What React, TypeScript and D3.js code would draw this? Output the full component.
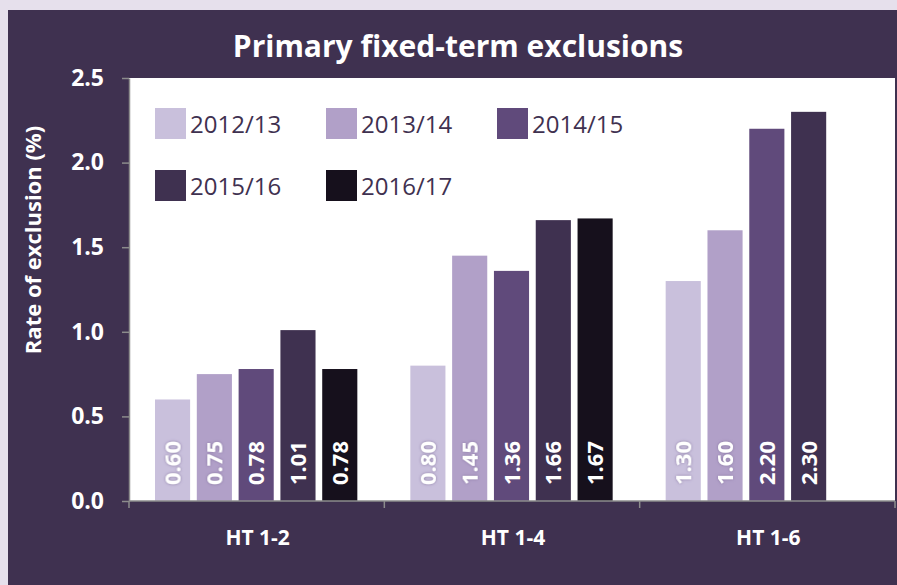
import React, { useEffect, useRef } from 'react';
import * as d3 from 'd3';

const categories = ['HT 1-2', 'HT 1-4', 'HT 1-6'];
const years = ['2012/13', '2013/14', '2014/15', '2015/16', '2016/17'];
const yearColors = ['#c9c0dc', '#b1a0c8', '#604a7b', '#3f3150', '#16101c'];
// one array per category, in year order; null = no data yet
const ht12 = [0.6, 0.75, 0.78, 1.01, 0.78];
const ht14 = [0.8, 1.45, 1.36, 1.66, 1.67];
const ht16 = [1.3, 1.6, 2.2, 2.3, null];
const yTicks = [0, 0.5, 1.0, 1.5, 2.0, 2.5];

const W = 897;
const H = 585;
const FONT = '"Open Sans", "Noto Sans", sans-serif';

const Chart: React.FC = () => {
  const svgRef = useRef<SVGSVGElement>(null);

  useEffect(() => {
    if (!svgRef.current) return;
    const svg = d3.select(svgRef.current);
    svg.selectAll('*').remove();

    const plot = { left: 129, right: 895, top: 78, bottom: 501 };

    // page + dark panel
    svg.append('rect').attr('width', W).attr('height', H).style('fill', '#e6e0ec');
    svg.append('rect')
      .attr('x', 8).attr('y', 10)
      .attr('width', W - 8).attr('height', H - 10)
      .style('fill', '#3f3150');

    const defs = svg.append('defs');
    const glow = defs.append('filter').attr('id', 'glow')
      .attr('x', '-50%').attr('y', '-50%').attr('width', '200%').attr('height', '200%');
    glow.append('feGaussianBlur').attr('in', 'SourceAlpha').attr('stdDeviation', 1.5).attr('result', 'b');
    glow.append('feFlood').attr('flood-color', '#7d6a99').attr('flood-opacity', 0.8);
    glow.append('feComposite').attr('in2', 'b').attr('operator', 'in').attr('result', 's');
    const merge = glow.append('feMerge');
    merge.append('feMergeNode').attr('in', 's');
    merge.append('feMergeNode').attr('in', 'SourceGraphic');

    svg.append('text')
      .attr('x', 458).attr('y', 57)
      .attr('text-anchor', 'middle')
      .style('font-family', FONT).style('font-weight', 700).style('font-size', '30px')
      .style('fill', '#ffffff')
      .text('Primary fixed-term exclusions');

    // white plot area
    svg.append('rect')
      .attr('x', plot.left).attr('y', plot.top)
      .attr('width', plot.right - plot.left).attr('height', plot.bottom - plot.top)
      .style('fill', '#ffffff');

    const x0 = d3.scaleBand<string>().domain(categories).range([plot.left, plot.right]).paddingInner(0).paddingOuter(0);
    const x1 = d3.scaleBand<string>().domain(years).range([26, x0.bandwidth() - 27]).paddingInner(0.16).paddingOuter(0);
    const y = d3.scaleLinear().domain([0, 2.5]).range([plot.bottom, plot.top]);

    const series = [ht12, ht14, ht16];

    const groups = svg.append('g').selectAll('g')
      .data(categories)
      .enter().append('g')
      .attr('transform', d => `translate(${x0(d)},0)`);

    const bars = groups.selectAll('g.bar')
      .data((d, i) => years.map((yr, j) => ({ yr, j, v: series[i][j] })).filter(b => b.v !== null))
      .enter().append('g').attr('class', 'bar');

    bars.append('rect')
      .attr('x', d => x1(d.yr)!)
      .attr('width', x1.bandwidth())
      .attr('y', d => y(d.v as number))
      .attr('height', d => plot.bottom - y(d.v as number))
      .style('fill', d => yearColors[d.j]);

    bars.append('text')
      .attr('transform', d => `translate(${x1(d.yr)! + x1.bandwidth() / 2 + 8},${plot.bottom - 16}) rotate(-90)`)
      .style('font-family', FONT).style('font-weight', 700).style('font-size', '22px')
      .style('fill', '#ffffff')
      .attr('filter', d => (d.j < 2 ? 'url(#glow)' : null))
      .text(d => (d.v as number).toFixed(2));

    // y axis
    const yAxis = svg.append('g').attr('transform', `translate(${plot.left},0)`)
      .call(d3.axisLeft(y).tickValues(yTicks).tickFormat(d3.format('.1f')).tickSize(7).tickSizeOuter(0));
    yAxis.select('.domain').style('stroke', '#8c8c8c').style('stroke-width', 1.5);
    yAxis.selectAll('.tick line').style('stroke', '#8c8c8c').style('stroke-width', 1.5);
    yAxis.selectAll('.tick text')
      .attr('x', -25)
      .style('font-family', FONT).style('font-weight', 700).style('font-size', '23px')
      .style('fill', '#ffffff');

    // x axis with boundary ticks between categories
    const xAxis = svg.append('g').attr('transform', `translate(0,${plot.bottom})`);
    xAxis.append('line')
      .attr('x1', plot.left).attr('x2', plot.right)
      .style('stroke', '#8c8c8c').style('stroke-width', 1.5);
    const bounds = categories.map(c => x0(c)!).concat([x0.range()[1]]);
    xAxis.selectAll('line.tk').data(bounds).enter().append('line').attr('class', 'tk')
      .attr('x1', d => d).attr('x2', d => d).attr('y1', 0).attr('y2', 7)
      .style('stroke', '#8c8c8c').style('stroke-width', 1.5);
    xAxis.selectAll('text').data(categories).enter().append('text')
      .attr('x', d => x0(d)! + x0.bandwidth() / 2 + 1)
      .attr('y', 44)
      .attr('text-anchor', 'middle')
      .style('font-family', FONT).style('font-weight', 700).style('font-size', '21px')
      .style('fill', '#ffffff')
      .text(d => d);

    svg.append('text')
      .attr('transform', `translate(41,240) rotate(-90)`)
      .attr('text-anchor', 'middle')
      .style('font-family', FONT).style('font-weight', 700).style('font-size', '22px')
      .style('fill', '#ffffff')
      .text('Rate of exclusion (%)');

    // legend, 3 per row
    const legend = svg.append('g').selectAll('g')
      .data(years)
      .enter().append('g')
      .attr('transform', (d, i) => `translate(${155 + (i % 3) * 171},${108 + Math.floor(i / 3) * 62})`);
    legend.append('rect').attr('width', 31).attr('height', 31).style('fill', (d, i) => yearColors[i]);
    legend.append('text')
      .attr('x', 35).attr('y', 25)
      .style('font-family', FONT).style('font-size', '24px')
      .style('fill', '#3f3150')
      .text(d => d);
  }, []);

  return <svg ref={svgRef} width={W} height={H} style={{ display: 'block' }} />;
};

export default function App() {
  return (
    <div style={{ position: 'fixed', left: 0, top: 0, width: W, height: H, overflow: 'hidden' }}>
      <Chart />
    </div>
  );
}
